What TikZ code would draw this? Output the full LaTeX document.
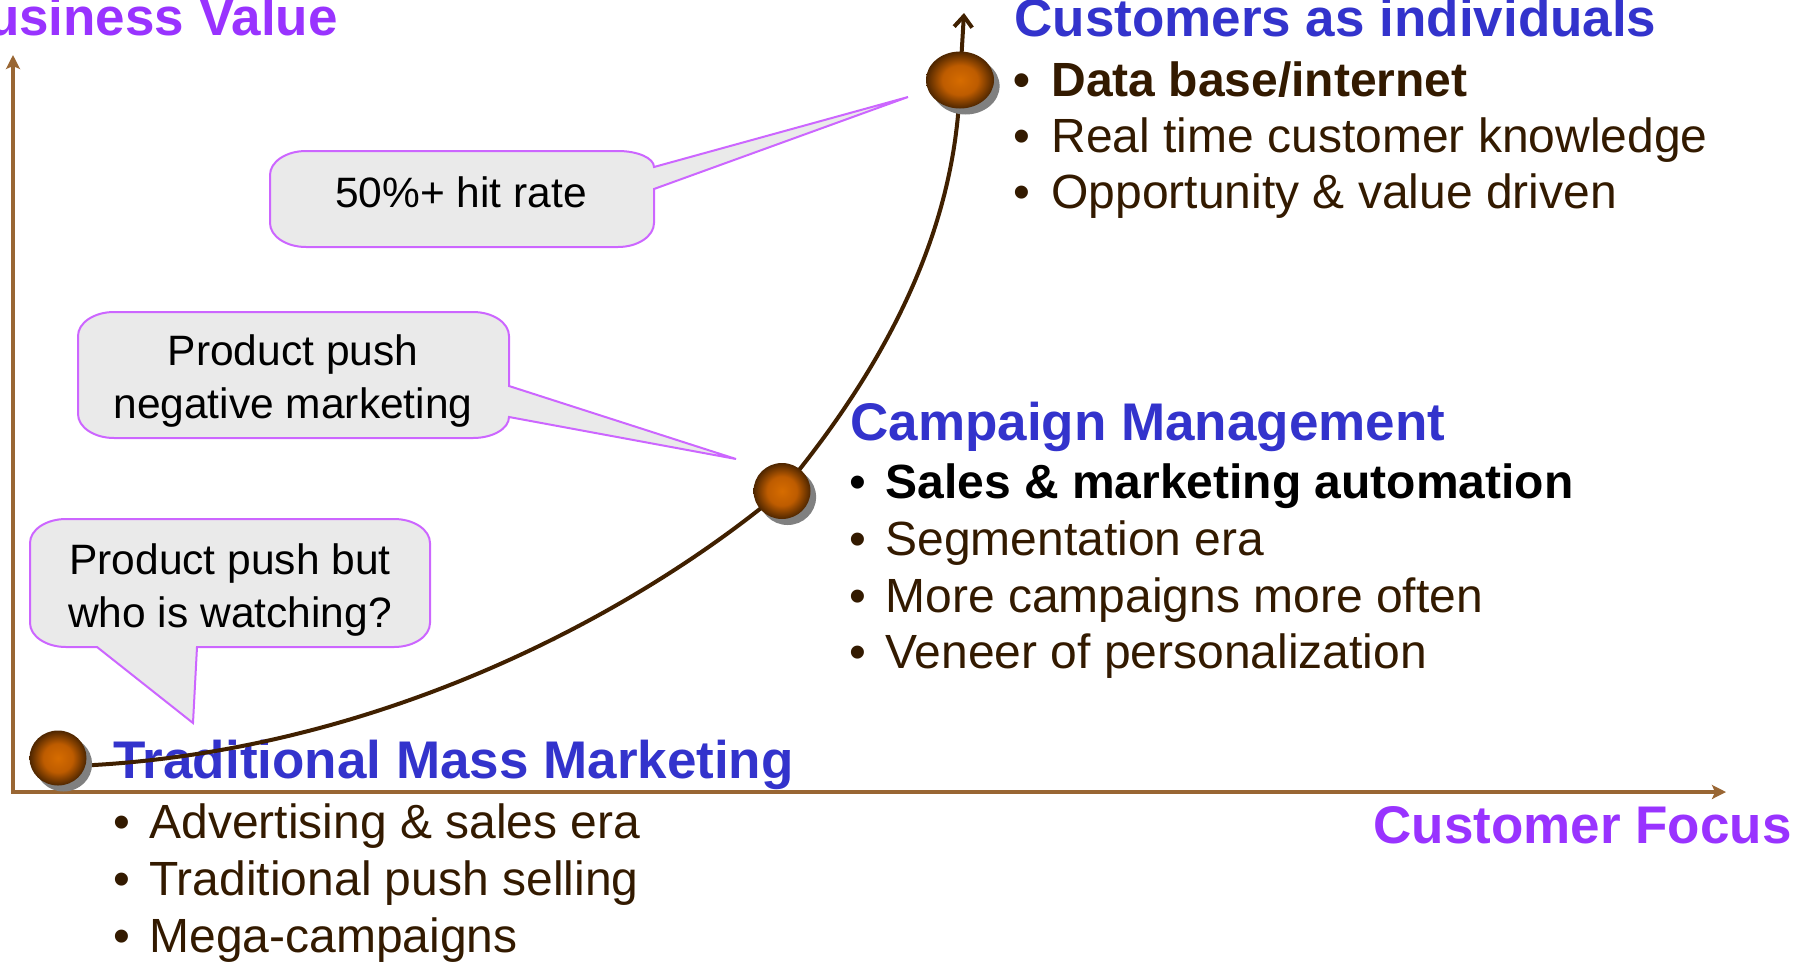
\documentclass[tikz,border=0pt]{standalone}
\usepackage{fontspec}
\setmainfont{Liberation Sans}
\usetikzlibrary{arrows.meta,shapes.geometric,shadows}

\definecolor{axisbrown}{RGB}{153,102,51}
\definecolor{curvebrown}{RGB}{64,32,0}
\definecolor{headblue}{RGB}{51,51,204}
\definecolor{labelviolet}{RGB}{153,51,255}
\definecolor{textbrown}{RGB}{51,26,0}
\definecolor{notefill}{RGB}{234,234,234}
\definecolor{noteline}{RGB}{204,102,255}
\definecolor{ballcore}{RGB}{214,108,0}
\definecolor{ballmid}{RGB}{190,92,0}
\definecolor{ballrim}{RGB}{78,38,0}

% orange marble, light in the middle
\pgfdeclareradialshading{marble}{\pgfpoint{0bp}{0bp}}{%
  color(0bp)=(ballcore); color(13bp)=(ballmid); color(25bp)=(ballrim);
  color(50bp)=(ballrim)}

\pgfdeclarelayer{front}
\pgfsetlayers{main,front}

\tikzset{
  heading/.style={anchor=base west,inner sep=0pt,text=headblue,
    font=\fontsize{26.5}{32}\selectfont\bfseries},
  axislabel/.style={heading,text=labelviolet},
  item/.style={anchor=base west,inner sep=0pt,text=textbrown,
    font=\fontsize{24}{29}\selectfont},
  itemdot/.style={item,anchor=base},
  notetext/.style={align=center,inner sep=0pt,
    font=\fontsize{21.25}{26.25}\selectfont},
  bubble/.style={draw=noteline,fill=notefill,line width=1pt},
  ball/.style={ellipse,inner sep=0pt,shading=marble,
    drop shadow={shadow xshift=2.8pt,shadow yshift=-3pt,fill=black!50,opacity=1}},
  axisline/.style={draw=axisbrown,line width=2pt,
    >={Stealth[length=7pt,width=7pt,inset=1.5pt]},<->},
  growth/.style={draw=curvebrown,line width=2pt,
    >={Straight Barb[length=5.5pt,width=9pt]},->}
}

\begin{document}
\begin{tikzpicture}[x=0.5pt,y=-0.5pt]
  \useasboundingbox (0,0) rectangle (1804,964);

  % axes
  \coordinate (vtop) at (13,55);
  \coordinate (o) at (13,792);
  \coordinate (hend) at (1726,792);
  \draw[axisline] (vtop) -- (o) -- (hend);
  \node[axislabel,anchor=base east] (value) at (338,35) {Business Value};
  \node[axislabel] (focus) at (1373,843) {Customer Focus};

  % callouts
  \coordinate (hit-tip) at (908,97);
  \draw[bubble] (654,167) -- (hit-tip) -- (654,189) -- (654,223)
    arc[start angle=0,end angle=90,x radius=36,y radius=24] -- (306,247)
    arc[start angle=90,end angle=180,x radius=36,y radius=24] -- (270,175)
    arc[start angle=180,end angle=270,x radius=36,y radius=24] -- (618,151)
    arc[start angle=270,end angle=360,x radius=36,y radius=16] -- cycle;
  \node[notetext,anchor=base] (hit) at (461,207) {50\%+ hit rate};

  \coordinate (push-tip) at (736,459);
  \draw[bubble] (509,386) -- (push-tip) -- (509,417)
    arc[start angle=0,end angle=90,x radius=36,y radius=21] -- (114,438)
    arc[start angle=90,end angle=180,x radius=36,y radius=24] -- (78,336)
    arc[start angle=180,end angle=270,x radius=36,y radius=24] -- (473,312)
    arc[start angle=270,end angle=360,x radius=36,y radius=24] -- cycle;
  \node[notetext] (push) at (293,381) {Product push\\negative marketing};

  \coordinate (watch-tip) at (193,723);
  \draw[bubble] (97,647) -- (watch-tip) -- (197,647) -- (394,647)
    arc[start angle=90,end angle=0,x radius=36,y radius=24] -- (430,543)
    arc[start angle=0,end angle=-90,x radius=36,y radius=24] -- (66,519)
    arc[start angle=-90,end angle=-180,x radius=36,y radius=24] -- (30,623)
    arc[start angle=180,end angle=90,x radius=36,y radius=24] -- cycle;
  \node[notetext] (watch) at (230,590) {Product push but\\who is watching?};

  % stage 1
  \node[heading] (mass-head) at (113,778) {Traditional Mass Marketing};
  \foreach[count=\i] \y/\txt in {838/Advertising \& sales era,
      895/Traditional push selling,952/Mega-campaigns} {
    \node[itemdot] (mass-dot-\i) at (122,\y) {•};
    \node[item] (mass-item-\i) at (149,\y) {\txt};
  }

  % stage 2
  \node[heading] (camp-head) at (850,440) {Campaign Management};
  \node[itemdot,text=black] (camp-dot-1) at (858,498) {•};
  \node[item,text=black] (camp-item-1) at (885,498) {\bfseries Sales \& marketing automation};
  \foreach[count=\i from 2] \y/\txt in {555/Segmentation era,
      612/More campaigns more often,668/Veneer of personalization} {
    \node[itemdot] (camp-dot-\i) at (858,\y) {•};
    \node[item] (camp-item-\i) at (885,\y) {\txt};
  }

  % stage 3
  \node[heading] (indiv-head) at (1014,36) {Customers as individuals};
  \node[itemdot] (indiv-dot-1) at (1022,96) {\bfseries •};
  \node[item] (indiv-item-1) at (1051,96) {\bfseries Data base/internet};
  \foreach[count=\i from 2] \y/\txt in {152/Real time customer knowledge,
      208/Opportunity \& value driven} {
    \node[itemdot] (indiv-dot-\i) at (1022,\y) {•};
    \node[item] (indiv-item-\i) at (1051,\y) {\txt};
  }

  % growth path through the three stages
  \begin{pgfonlayer}{front}
    \node[ball,minimum width=28.5pt,minimum height=27.5pt] (mass) at (58,758) {};
    \node[ball,minimum width=28.5pt,minimum height=28pt] (campaign) at (782,491) {};
    \node[ball,minimum width=34pt,minimum height=28.5pt] (individual) at (960,80) {};
  \end{pgfonlayer}
  \coordinate (peak) at (964,13);
  \draw[growth] (mass.-15) .. controls (386,750) and (640,610) .. (campaign.center)
    .. controls (895,355) and (957,220) .. (individual.center) -- (peak);
\end{tikzpicture}
\end{document}
